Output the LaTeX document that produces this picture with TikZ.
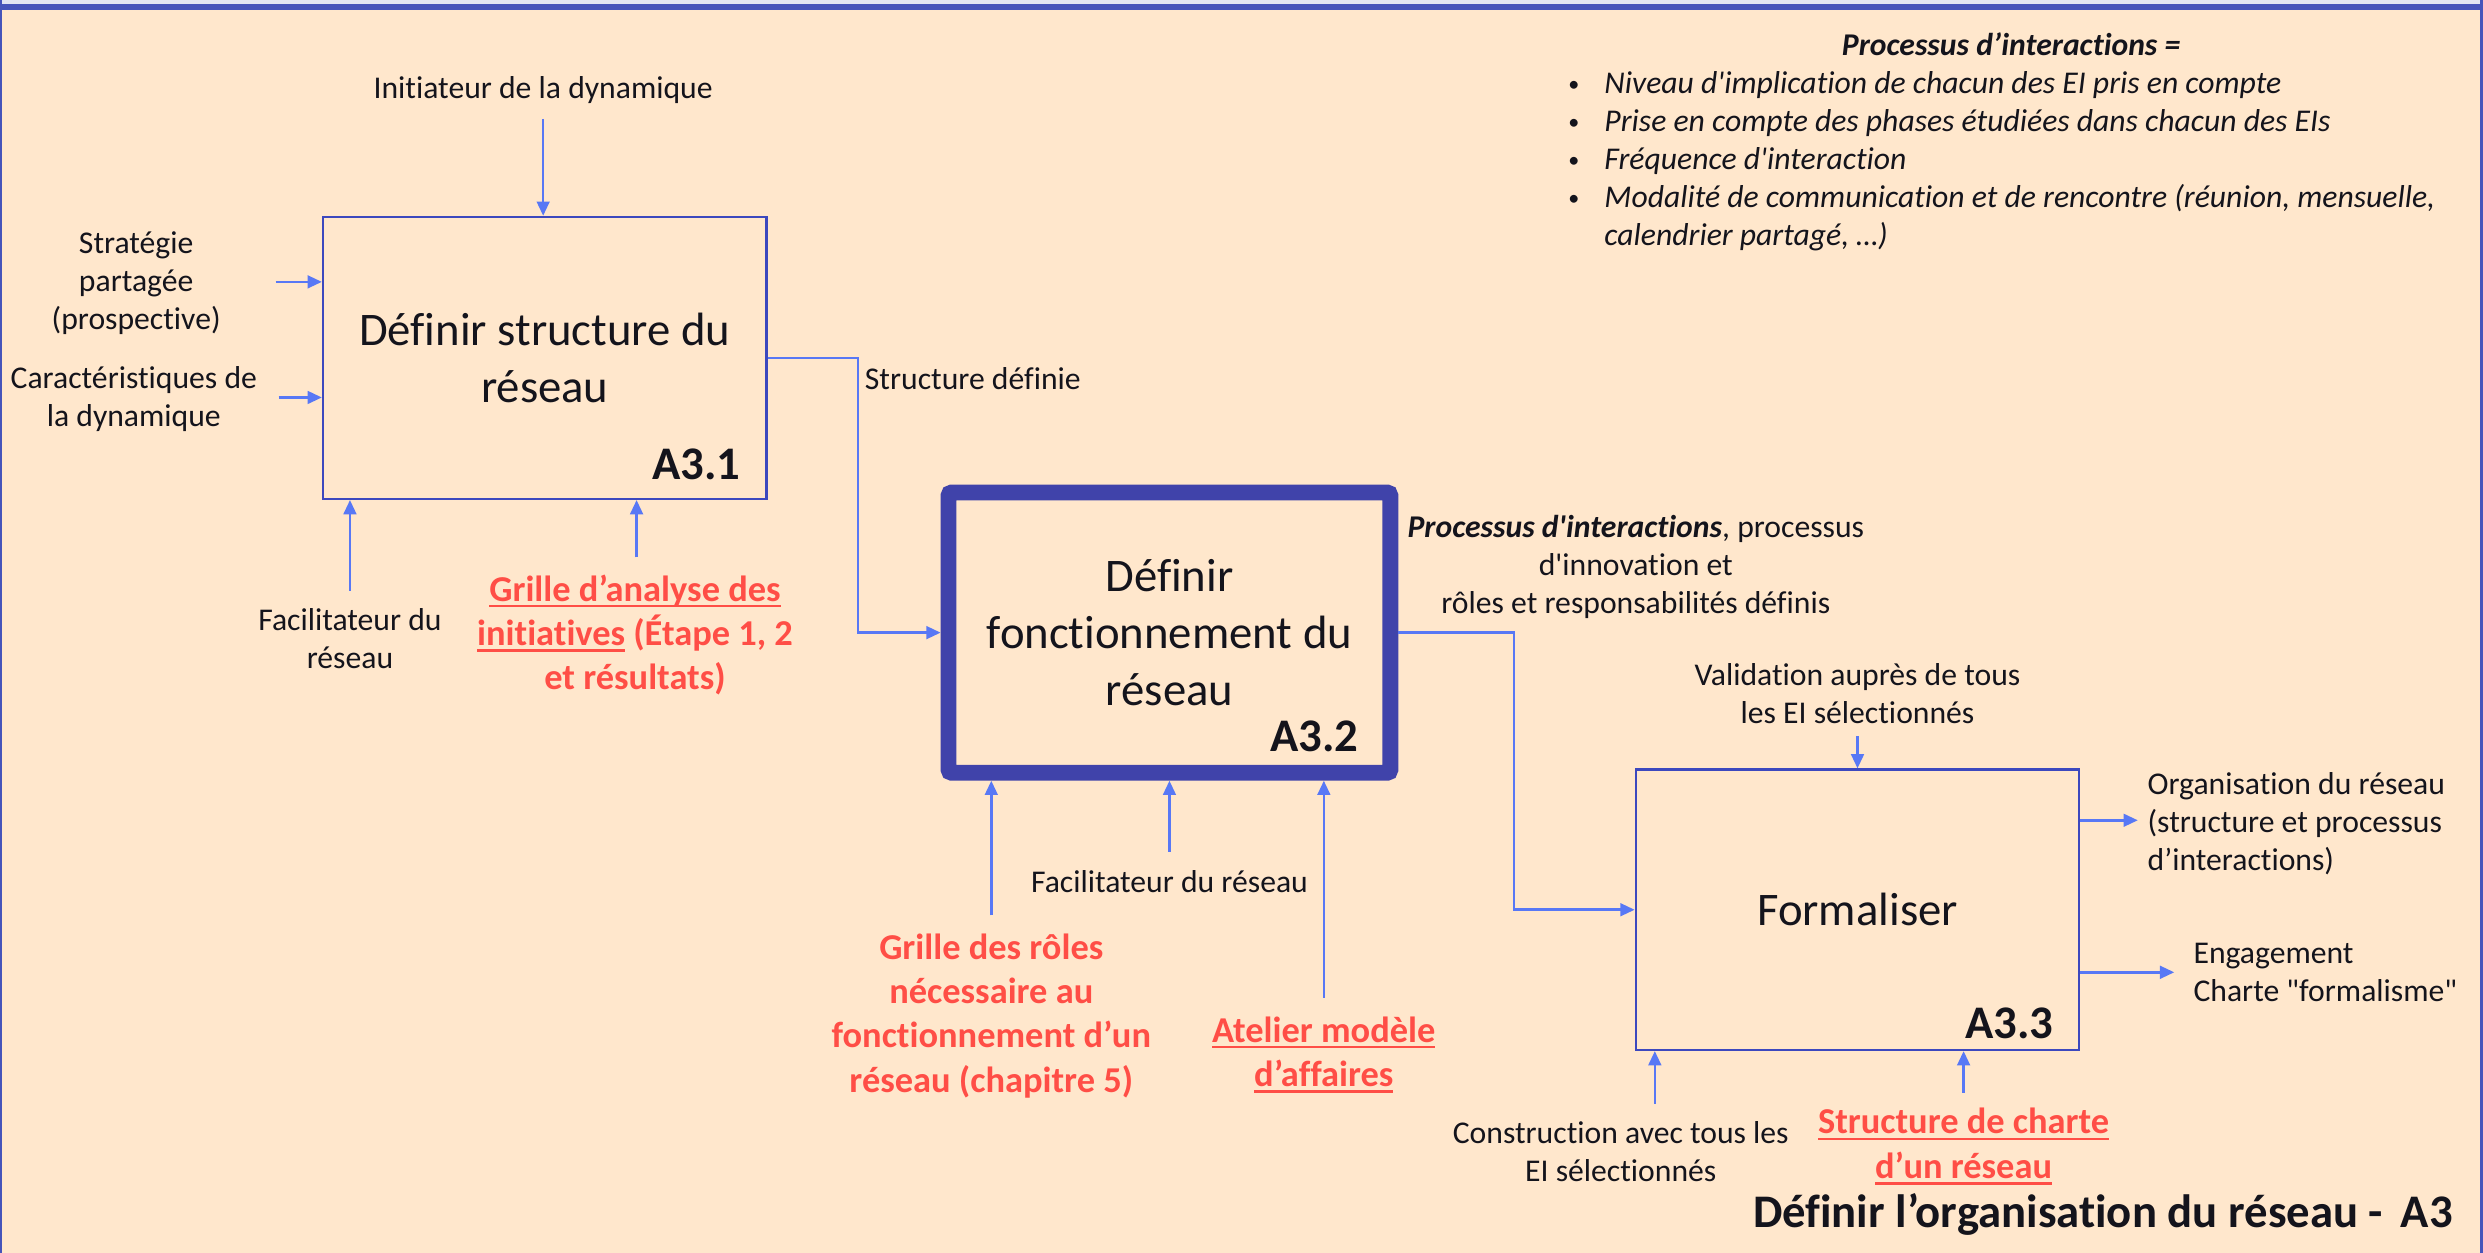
\documentclass[tikz,border=0pt]{standalone}
\usepackage{fontspec}
\setmainfont{Carlito}[Ligatures=NoCommon]
\usetikzlibrary{positioning,arrows.meta}
\definecolor{peach}{RGB}{255,231,204}
\definecolor{frameblue}{RGB}{70,84,186}
\definecolor{topgrey}{RGB}{226,229,242}
\definecolor{boxblue}{RGB}{60,72,190}
\definecolor{thickblue}{RGB}{64,67,170}
\definecolor{flowblue}{RGB}{88,120,245}
\definecolor{resred}{RGB}{255,78,70}
\definecolor{ink}{RGB}{20,20,28}
\newsavebox{\ulbox}
\newcommand{\resul}[1]{\sbox{\ulbox}{#1}\rlap{\rule[-4pt]{\wd\ulbox}{1.6pt}}\usebox{\ulbox}}
\newcommand{\puce}{\raisebox{1.5pt}{\fontsize{14}{24}\selectfont\textbullet}}
\tikzstyle{every picture}=[x=1pt, y=-1pt, >={Triangle[length=9pt,width=8pt]}]
\tikzstyle{activity}=[draw=boxblue, line width=1.5pt, minimum width=280pt,%
	minimum height=178pt, align=center, text=ink, font=\fontsize{29.5}{36}\selectfont]
\tikzstyle{code}=[inner sep=0pt, text=ink, font=\bfseries\fontsize{29.5}{36}\selectfont]
\tikzstyle{lbl}=[align=center, inner sep=0pt, text=ink, font=\fontsize{20}{24}\selectfont]
\tikzstyle{res}=[align=center, inner sep=0pt, text=resred, font=\bfseries\fontsize{23}{28}\selectfont]
\tikzstyle{flow}=[->, draw=flowblue, line width=1.6pt]

\begin{document}
\begin{tikzpicture}
	% cadre
	\useasboundingbox (0,0) rectangle (1568,791);
	\fill[peach] (0,0) rectangle (1568,791);
	\fill[topgrey] (0,0) rectangle (1568,2.5);
	\fill[frameblue] (0,2.5) rectangle (1568,6.3);
	\fill[frameblue] (0,0) rectangle (1.5,791);
	\fill[frameblue] (1566,0) rectangle (1568,791);

	% activites
	\node[activity] (A31) at (344,226) {Définir structure du\\réseau};
	\node[activity, draw=thickblue, line width=10pt, rounded corners=2pt,%
		minimum width=279pt, minimum height=177pt] (A32) at (738.5,399.5)
		{Définir\\fonctionnement du\\réseau};
	\node[activity, minimum height=177pt] (A33) at (1173,574.5) {Formaliser};
	\node[code, above left=12.5pt and 17pt of A31.south east] {A3.1};
	\node[code, above left=18pt and 25pt of A32.south east] {A3.2};
	\node[code, above left=7.5pt and 17pt of A33.south east] {A3.3};

	% A3.1
	\node[lbl] (ini) at (343,57) {Initiateur de la dynamique};
	\node[lbl] (strat) at (86,179) {Stratégie\\partagée\\(prospective)};
	\node[lbl] (carac) at (84.5,252) {Caractéristiques de\\la dynamique};
	\node[lbl] (fac1) at (221,403.5) {Facilitateur du\\réseau};
	\node[res] (grille1) at (401,401) {\resul{Grille d’analyse des}\\%
		\resul{initiatives} (Étape 1, 2\\et résultats)};
	\node[lbl, anchor=west] (sdef) at (546,239) {Structure définie};
	\coordinate (c1) at (343,75);
	\coordinate (c2) at (174,178);
	\coordinate (c3) at (176,251);
	\coordinate (c4) at (221,373);
	\coordinate (c5) at (402,352);
	\draw[flow] (c1) -- (c1 |- A31.north);
	\draw[flow] (c2) -- (c2 -| A31.west);
	\draw[flow] (c3) -- (c3 -| A31.west);
	\draw[flow] (c4) -- (c4 |- A31.south);
	\draw[flow] (c5) -- (c5 |- A31.south);
	\draw[flow] (A31.east) -- ++(57,0) |- (A32.west);

	% A3.2
	\node[lbl] (proc) at (1033,358) {\textbf{\textit{Processus d\textquotesingle interactions}}, processus\\%
		d\textquotesingle innovation et\\rôles et responsabilités définis};
	\node[lbl] (fac2) at (738.5,557) {Facilitateur du réseau};
	\node[res] (roles) at (626,641.5) {Grille des rôles\\nécessaire au\\%
		fonctionnement d’un\\réseau (chapitre 5)};
	\node[res] (atelier) at (836,666) {\resul{Atelier modèle}\\\resul{d’affaires}};
	\coordinate (c6) at (626,578);
	\coordinate (c7) at (738.5,538);
	\coordinate (c8) at (836,630);
	\draw[flow] (c6) -- (c6 |- A32.south);
	\draw[flow] (c7) -- (c7 |- A32.south);
	\draw[flow] (c8) -- (c8 |- A32.south);
	\draw[flow] (A32.east) -- ++(73,0) |- (A33.west);

	% A3.3
	\node[lbl] (valid) at (1173,438) {Validation auprès de tous\\les EI sélectionnés};
	\node[lbl, align=left, anchor=west] (orga) at (1356,520)
		{Organisation du réseau\\(structure et processus\\d’interactions)};
	\node[lbl, align=left, anchor=west] (engag) at (1385,614)
		{Engagement\\Charte \textquotedbl formalisme\textquotedbl};
	\node[lbl] (constr) at (1023.5,727) {Construction avec tous les\\EI sélectionnés};
	\node[res] (charte) at (1240,724) {\resul{Structure de charte}\\\resul{d’un réseau}};
	\coordinate (c9) at (1173,465);
	\coordinate (c10) at (1350,518);
	\coordinate (c11) at (1373,614);
	\coordinate (c12) at (1045,697);
	\coordinate (c13) at (1240,690);
	\draw[flow] (c9) -- (c9 |- A33.north);
	\draw[flow] (c10 -| A33.east) -- (c10);
	\draw[flow] (c11 -| A33.east) -- (c11);
	\draw[flow] (c12) -- (c12 |- A33.south);
	\draw[flow] (c13) -- (c13 |- A33.south);

	% note et titre
	\node[lbl, font=\bfseries\itshape\fontsize{20}{24}\selectfont] (head) at (1270,28)
		{Processus d’interactions =};
	\node[lbl, anchor=north west, font=\itshape\fontsize{20}{24}\selectfont] (list) at (990,42.2)
		{\begin{tabular}{@{}p{23pt}@{}l@{}}
		\puce & Niveau d\textquotesingle implication de chacun des EI pris en compte\\
		\puce & Prise en compte des phases étudiées dans chacun des EIs\\
		\puce & Fréquence d\textquotesingle interaction\\
		\puce & Modalité de communication et de rencontre (réunion, mensuelle,\\
		& calendrier partagé, …)
		\end{tabular}};
	\node[code, anchor=east] (titre) at (1549,767) {Définir l’organisation du réseau - \hspace{0.15em}A3};
\end{tikzpicture}
\end{document}
